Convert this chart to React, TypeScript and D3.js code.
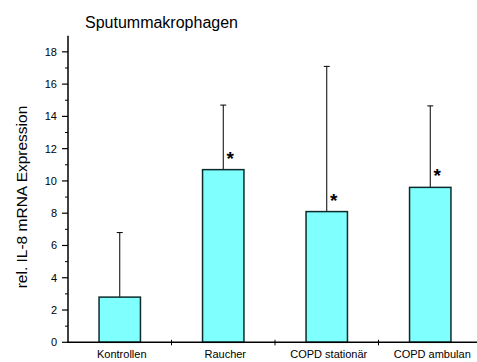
import React from "react";
import * as d3 from "d3";

const categories = ["Kontrollen", "Raucher", "COPD stationär", "COPD ambulan"];
const means = [2.8, 10.7, 8.1, 9.6];
const upperErrors = [6.8, 14.7, 17.1, 14.65];
const significant = [false, true, true, true];
const yTicks = [0, 2, 4, 6, 8, 10, 12, 14, 16, 18];
const yMinorTicks = [1, 3, 5, 7, 9, 11, 13, 15, 17];

const W = 477;
const H = 362;
const left = 68;
const bottom = 342.3;
const top = 35.7;
const bandStep = 103.5;

export default function App() {
  const y = d3.scaleLinear().domain([0, 19]).range([bottom, top]);
  const x = d3
    .scaleBand<string>()
    .domain(categories)
    .range([left, left + bandStep * categories.length])
    .paddingInner(0)
    .paddingOuter(0);
  const barW = x.bandwidth() * 0.4;
  const boundaries = categories.map((_, i) => left + bandStep * (i + 1));
  const font = "Arial, 'Liberation Sans', sans-serif";

  return (
    <svg
      width={W}
      height={H}
      style={{ position: "absolute", left: 0, top: 0, background: "#fff" }}
      fontFamily={font}
    >
      <text x={85} y={28} fontSize={16} fill="#000">
        Sputummakrophagen
      </text>

      {/* bars with upper error whiskers */}
      {categories.map((c, i) => {
        const cx = (x(c) as number) + x.bandwidth() / 2;
        return (
          <g key={c}>
            <line
              x1={cx}
              x2={cx}
              y1={y(means[i])}
              y2={y(upperErrors[i])}
              stroke="#000"
              strokeWidth={1}
            />
            <line
              x1={cx - 3}
              x2={cx + 3}
              y1={y(upperErrors[i])}
              y2={y(upperErrors[i])}
              stroke="#000"
              strokeWidth={1}
            />
            <rect
              x={cx - barW / 2}
              y={y(means[i])}
              width={barW}
              height={y(0) - y(means[i])}
              fill="#80FFFF"
              stroke="#0d2b2b"
              strokeWidth={1.5}
            />
            {significant[i] && (
              <text
                x={cx + 7}
                y={y(means[i]) - 5}
                fontSize={19}
                fontWeight="bold"
                textAnchor="middle"
                fill="#000"
              >
                *
              </text>
            )}
            <text
              x={cx + 2}
              y={358}
              fontSize={11}
              textAnchor="middle"
              fill="#000"
            >
              {c}
            </text>
          </g>
        );
      })}

      {/* y axis */}
      <line x1={left} x2={left} y1={top} y2={bottom + 0.75} stroke="#000" strokeWidth={1.5} />
      {yTicks.map((t) => (
        <g key={t}>
          <line x1={left - 6} x2={left} y1={y(t)} y2={y(t)} stroke="#000" strokeWidth={1.2} />
          <text x={57} y={y(t) + 4} fontSize={11} textAnchor="end" fill="#000">
            {t}
          </text>
        </g>
      ))}
      {yMinorTicks.map((t) => (
        <line key={t} x1={left - 3} x2={left} y1={y(t)} y2={y(t)} stroke="#000" strokeWidth={1} />
      ))}

      {/* x axis */}
      <line x1={left - 0.75} x2={W + 10} y1={bottom} y2={bottom} stroke="#000" strokeWidth={1.5} />
      {boundaries.map((b) => (
        <line key={b} x1={b} x2={b} y1={bottom - 2.5} y2={bottom + 3} stroke="#000" strokeWidth={1} />
      ))}

      <text
        transform={`translate(27,197) rotate(-90)`}
        fontSize={15.5}
        textAnchor="middle"
        fill="#000"
      >
        rel. IL-8 mRNA Expression
      </text>
    </svg>
  );
}
